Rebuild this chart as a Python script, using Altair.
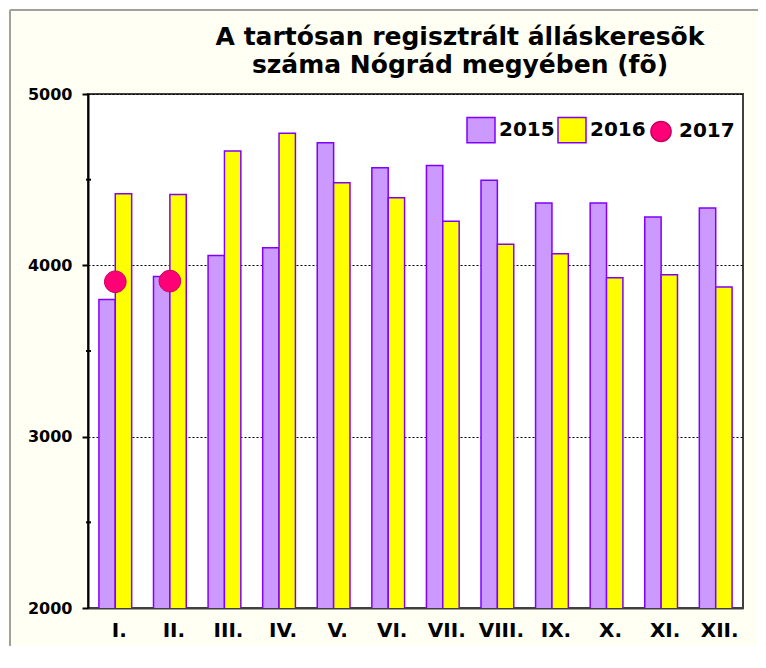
import altair as alt
import pandas as pd

# ---- data ----
months = ["I.", "II.", "III.", "IV.", "V.", "VI.", "VII.", "VIII.", "IX.", "X.", "XI.", "XII."]
v2015 = [3800, 3935, 4058, 4103, 4716, 4570, 4582, 4496, 4364, 4364, 4282, 4335]
v2016 = [4418, 4414, 4667, 4771, 4482, 4395, 4257, 4123, 4068, 3928, 3945, 3873]
months_2017 = ["I.", "II."]
v2017 = [3904, 3908]
years = ["2015", "2016", "2017"]
bar_years = ["2015", "2016"]
y_ticks = [2000, 3000, 4000, 5000]
minor_ticks = [2500, 3500, 4500]
title_lines = ["A tartósan regisztrált álláskeresõk", "száma Nógrád megyében (fõ)"]

fill_colors = ["#CC99FF", "#FFFF00", "#FF0077"]
stroke_colors = ["#8000FF", "#8000FF", "#C8005E"]
rect_path = "M-1,-0.9H1V0.9H-1Z"
circle_path = "M0,-0.72A0.72,0.72,0,1,1,0,0.72A0.72,0.72,0,1,1,0,-0.72Z"
shapes = [rect_path, rect_path, circle_path]

bars_df = pd.DataFrame({
    "month": months * 2,
    "year": ["2015"] * len(months) + ["2016"] * len(months),
    "value": v2015 + v2016,
})
points_df = pd.DataFrame({"month": months_2017, "year": ["2017"] * len(v2017), "value": v2017})
minor_df = pd.DataFrame({"value": minor_ticks})
one_row = pd.DataFrame({"k": [0]})

FONT = "DejaVu Sans"

legend = alt.Legend(
    title=None, orient="none", legendX=378, legendY=21, direction="horizontal",
    symbolSize=784, symbolStrokeWidth=1.5, symbolOpacity=1,
    labelFont=FONT, labelFontWeight="bold", labelFontSize=20, labelColor="black",
    labelOffset=3, columnPadding=0, padding=0, labelLimit=200,
)

x_enc = alt.X(
    "month:N", sort=months,
    scale=alt.Scale(domain=months, paddingInner=0.4, paddingOuter=0.2),
    axis=alt.Axis(
        title=None, labelAngle=0, labelFont=FONT, labelFontWeight="bold", labelFontSize=20,
        labelColor="black", ticks=False, tickSize=0, labelPadding=12, labelOffset=4,
        domainColor="#404040", domainWidth=2, grid=False,
    ),
)
y_scale = alt.Scale(domain=[2000, 5000], zero=False, nice=False)
y_enc = alt.Y(
    "value:Q", scale=y_scale,
    axis=alt.Axis(
        title=None, values=y_ticks, format="d", labelFont=FONT, labelFontWeight="bold",
        labelFontSize=16, labelColor="black", tickSize=6, tickColor="black", tickWidth=2,
        domainColor="black", domainWidth=2, labelPadding=10,
        grid=True, gridColor="black", gridDash=[2, 2], gridWidth=1,
    ),
)
fill_enc = alt.Fill("year:N", scale=alt.Scale(domain=years, range=fill_colors), legend=legend)
stroke_enc = alt.Stroke("year:N", scale=alt.Scale(domain=years, range=stroke_colors), legend=legend)
shape_enc = alt.Shape("year:N", scale=alt.Scale(domain=years, range=shapes), legend=legend)

frame_top = alt.Chart(one_row).mark_rule(color="#A0A0A0", strokeWidth=2).encode(
    x=alt.value(-78), x2=alt.value(720), y=alt.value(-84)
)
frame_left = alt.Chart(one_row).mark_rule(color="#A0A0A0", strokeWidth=2).encode(
    x=alt.value(-78), y=alt.value(-84), y2=alt.value(640)
)

bars = alt.Chart(bars_df).mark_bar(strokeWidth=1.5, clip=True).encode(
    x=x_enc,
    xOffset=alt.XOffset("year:N", scale=alt.Scale(domain=bar_years)),
    y=y_enc,
    fill=fill_enc,
    stroke=stroke_enc,
)

points = alt.Chart(points_df).mark_point(filled=True, size=900, strokeWidth=1, opacity=1).encode(
    x=x_enc, y=y_enc, fill=fill_enc, stroke=stroke_enc, shape=shape_enc,
)

minor = alt.Chart(minor_df).mark_rule(color="black", strokeWidth=2).encode(
    y=alt.Y("value:Q"),
    x=alt.value(-2), x2=alt.value(3),
)

title1 = alt.Chart(one_row).mark_text(
    font=FONT, fontSize=25, fontWeight="bold", color="black", align="center", baseline="alphabetic"
).encode(x=alt.value(372), y=alt.value(-49), text=alt.value(title_lines[0]))
title2 = alt.Chart(one_row).mark_text(
    font=FONT, fontSize=25, fontWeight="bold", color="black", align="center", baseline="alphabetic"
).encode(x=alt.value(372), y=alt.value(-21), text=alt.value(title_lines[1]))

chart = alt.layer(frame_top, frame_left, bars, points, minor, title1, title2).properties(
    width=655, height=514,
    autosize=alt.AutoSizeParams(type="none"),
    padding={"left": 80, "top": 86, "right": 15, "bottom": 38},
    background="#FFFFF4",
).configure_view(fill="white", stroke="#404040", strokeWidth=2)

chart.save("out.html", embed_options={"renderer": "svg", "actions": False})
